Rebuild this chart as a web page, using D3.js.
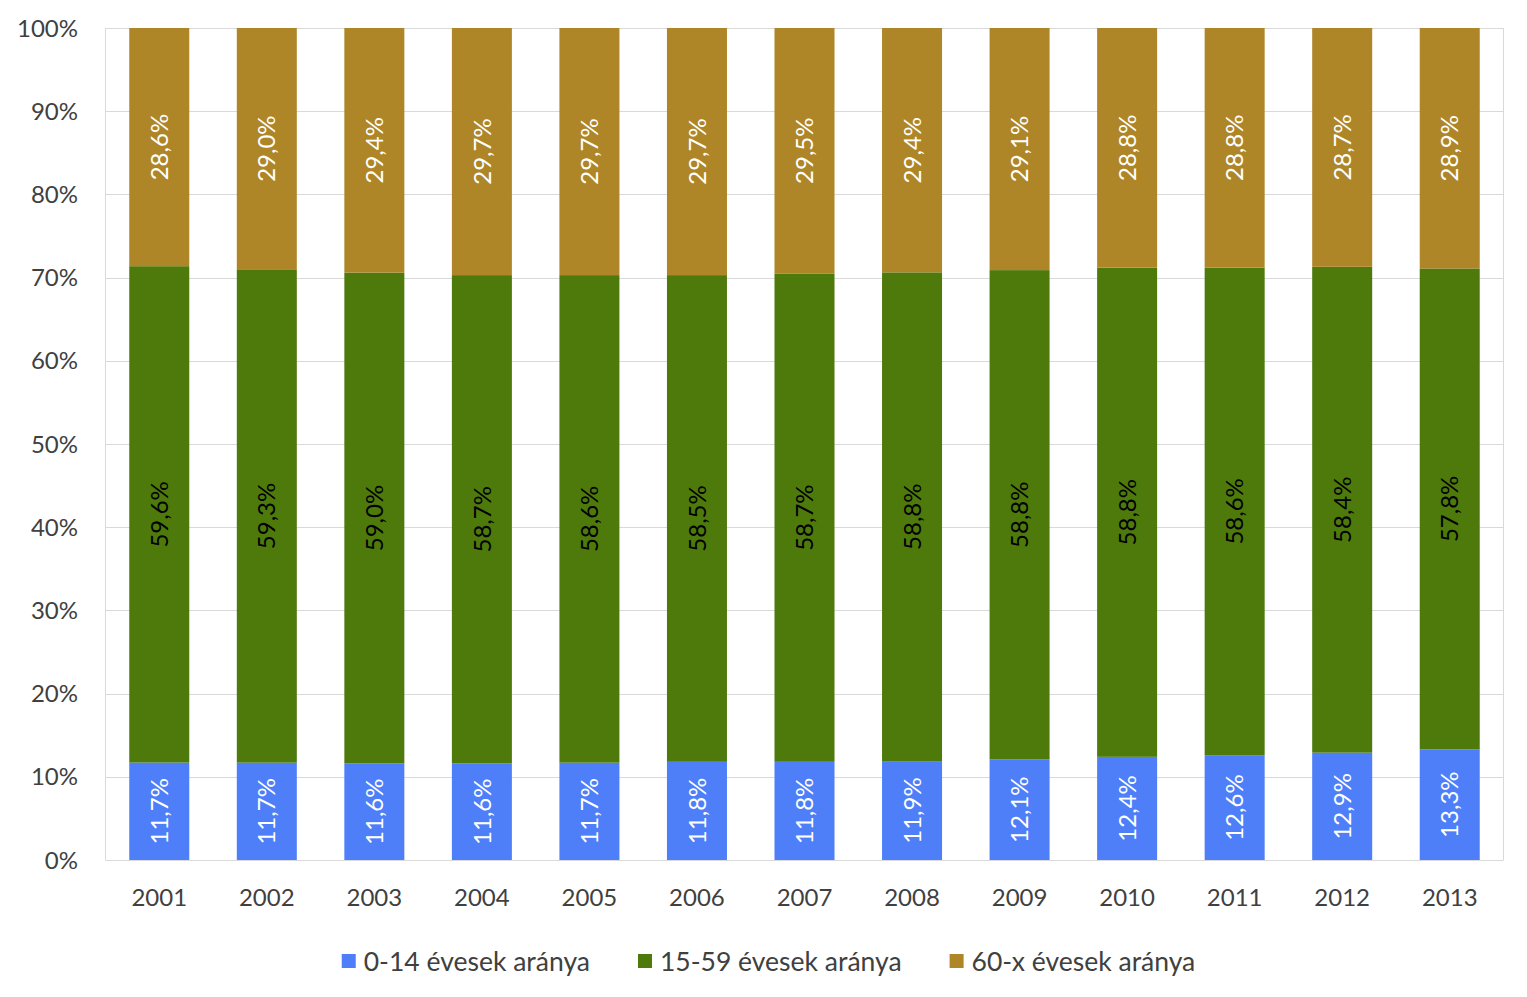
<!DOCTYPE html>
<html>
<head>
<meta charset="utf-8">
<script src="https://cdn.jsdelivr.net/npm/d3@7"></script>
<style>
  html, body { margin: 0; padding: 0; background: #ffffff; }
  svg { display: block; font-family: Lato, "Open Sans", sans-serif; }
</style>
</head>
<body>
<svg id="chart" width="1527" height="997"></svg>
<script>
const years = ["2001","2002","2003","2004","2005","2006","2007","2008","2009","2010","2011","2012","2013"];
const age0_14 = [11.7, 11.7, 11.6, 11.6, 11.7, 11.8, 11.8, 11.9, 12.1, 12.4, 12.6, 12.9, 13.3];
const age15_59 = [59.6, 59.3, 59.0, 58.7, 58.6, 58.5, 58.7, 58.8, 58.8, 58.8, 58.6, 58.4, 57.8];
const age60x = [28.6, 29.0, 29.4, 29.7, 29.7, 29.7, 29.5, 29.4, 29.1, 28.8, 28.8, 28.7, 28.9];
const seriesNames = ["0-14 évesek aránya", "15-59 évesek aránya", "60-x évesek aránya"];
const seriesKeys = ["a", "b", "c"];
const seriesColors = ["#4e7ff8", "#4e7a0c", "#ae8627"];
const labelColors = ["#ffffff", "#000000", "#ffffff"];
const yTicks = [0, 0.1, 0.2, 0.3, 0.4, 0.5, 0.6, 0.7, 0.8, 0.9, 1.0];

const rows = years.map((y, i) => ({ year: y, a: age0_14[i], b: age15_59[i], c: age60x[i] }));

const svg = d3.select("#chart");
const plotLeft = 105.5, plotRight = 1503.5, plotTop = 28, plotBottom = 860;

const x = d3.scaleBand().domain(years).range([plotLeft, plotRight]).paddingInner(0.442).paddingOuter(0.221);
const y = d3.scaleLinear().domain([0, 1]).range([plotBottom, plotTop]);

const stack = d3.stack().keys(seriesKeys).offset(d3.stackOffsetExpand);
const stacked = stack(rows);

// gridlines
svg.append("g").selectAll("line").data(yTicks).join("line")
  .attr("x1", plotLeft).attr("x2", plotRight)
  .attr("y1", d => Math.round(y(d)) + 0.5).attr("y2", d => Math.round(y(d)) + 0.5)
  .attr("stroke", "#d9d9d9").attr("stroke-width", 1);
// plot border verticals
svg.append("line").attr("x1", plotLeft).attr("x2", plotLeft).attr("y1", plotTop).attr("y2", plotBottom)
  .attr("stroke", "#d9d9d9");
svg.append("line").attr("x1", plotRight).attr("x2", plotRight).attr("y1", plotTop).attr("y2", plotBottom)
  .attr("stroke", "#d9d9d9");

// y tick labels
const fmtPct = d3.format(".0%");
svg.append("g").selectAll("text").data(yTicks).join("text")
  .attr("x", 78).attr("y", d => y(d)).attr("dy", "0.36em")
  .attr("text-anchor", "end").attr("font-size", 24).attr("fill", "#404040")
  .text(d => fmtPct(d));

// x labels
svg.append("g").selectAll("text").data(years).join("text")
  .attr("x", d => x(d) + x.bandwidth() / 2).attr("y", 906)
  .attr("text-anchor", "middle").attr("font-size", 24).attr("fill", "#404040")
  .text(d => d);

// bars
const groups = svg.append("g").selectAll("g").data(stacked).join("g")
  .attr("fill", (d, i) => seriesColors[i]);
groups.selectAll("rect").data(d => d).join("rect")
  .attr("x", d => x(d.data.year))
  .attr("width", x.bandwidth())
  .attr("y", d => y(d[1]))
  .attr("height", d => y(d[0]) - y(d[1]));

// labels
const fmtVal = v => v.toFixed(1).replace(".", ",") + "%";
stacked.forEach((s, si) => {
  svg.append("g").selectAll("text").data(s).join("text")
    .attr("transform", d => {
      const cx = x(d.data.year) + x.bandwidth() / 2;
      const cy = (y(d[0]) + y(d[1])) / 2;
      return `translate(${cx},${cy}) rotate(-90)`;
    })
    .attr("dy", "0.36em")
    .attr("text-anchor", "middle")
    .attr("font-size", 24)
    .attr("fill", labelColors[si])
    .text(d => fmtVal(d.data[s.key]));
});

// legend
const legend = svg.append("g");
const items = legend.selectAll("g").data(seriesNames).join("g");
items.append("rect").attr("width", 14).attr("height", 14).attr("y", 954)
  .attr("fill", (d, i) => seriesColors[i]);
items.append("text").attr("x", 22).attr("y", 961).attr("dy", "0.36em")
  .attr("font-size", 26.5).attr("fill", "#404040").text(d => d);
let widths = [];
items.each(function () { widths.push(this.getBBox().width); });
const gap = 48;
const total = d3.sum(widths) + gap * (widths.length - 1);
let cur = 768.5 - total / 2;
items.each(function (d, i) {
  d3.select(this).attr("transform", `translate(${cur},0)`);
  cur += widths[i] + gap;
});
</script>
</body>
</html>
